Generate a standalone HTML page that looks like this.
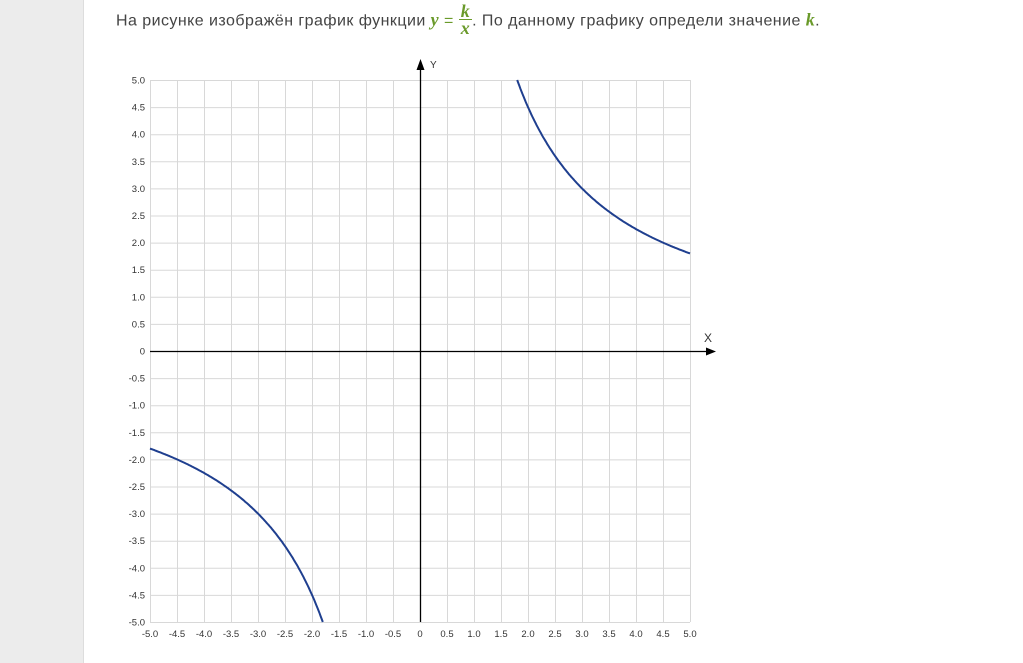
<!DOCTYPE html>
<html><head><meta charset="utf-8"><style>
body{margin:0;width:1023px;height:663px;background:#fff;position:relative;overflow:hidden;font-family:"Liberation Sans","DejaVu Sans",sans-serif}
.strip{position:absolute;left:0;top:0;width:83px;height:663px;background:#ececec;border-right:1px solid #ddd}
.q{position:absolute;left:116px;top:5px;font-size:16px;letter-spacing:0.45px;color:#444;white-space:nowrap}
.m{color:#6a9a2a;font-family:"Liberation Serif",serif;font-style:italic;font-weight:bold;font-size:18px}
</style></head><body>
<div class="strip"></div>
<div class="q">На рисунке изображён график функции <span class="m">y</span> <span style="color:#6a9a2a">=</span> <span style="display:inline-block;vertical-align:middle;text-align:center;line-height:16px;position:relative;top:-2px"><span class="m" style="display:block;border-bottom:1px solid #6a9a2a;padding:0 2px">k</span><span class="m" style="display:block">x</span></span>. По данному графику определи значение <span class="m">k</span>.</div>
<svg width="1023" height="663" style="position:absolute;left:0;top:0" font-family="Liberation Sans, DejaVu Sans, sans-serif">
<g stroke="#d8d8d8" stroke-width="1" id="grid"></g>
<g id="lbl" font-size="9.5" fill="#333"></g>
<line x1="150" y1="351.5" x2="708" y2="351.5" stroke="#000" stroke-width="1.3"/>
<polygon points="716,351.5 706,347.5 706,355.5" fill="#000"/>
<line x1="420.5" y1="622" x2="420.5" y2="68" stroke="#000" stroke-width="1.3"/>
<polygon points="420.5,59 416.5,70 424.5,70" fill="#000"/>
<text x="430" y="68" font-size="10" fill="#333">Y</text>
<text x="704" y="342" font-size="12" fill="#333">X</text>
<path id="c1" fill="none" stroke="#1f3f8f" stroke-width="2"/>
<path id="c2" fill="none" stroke="#1f3f8f" stroke-width="2"/>
</svg>
<script>
var g=document.getElementById('grid'),l=document.getElementById('lbl'),ns='http://www.w3.org/2000/svg';
function el(p,t,a){var e=document.createElementNS(ns,t);for(var k in a)e.setAttribute(k,a[k]);p.appendChild(e);return e;}
for(var i=0;i<=20;i++){var x=150+27*i+.5;el(g,'line',{x1:x,y1:80,x2:x,y2:622});
var y=80+27.1*i+.5;el(g,'line',{x1:150,y1:y,x2:690,y2:y});
var v=(5-0.5*i);var s=v===0?'0':v.toFixed(1);
el(l,'text',{x:145,y:y+3,'text-anchor':'end'}).textContent=s;
var vx=(-5+0.5*i);var sx=vx===0?'0':vx.toFixed(1);
el(l,'text',{x:150+27*i,y:637,'text-anchor':'middle'}).textContent=sx;}
var d1='',d2='';
for(var x=1.8;x<=5.0001;x+=0.02){var px=420+54*x,py=351-54.2*9/x;d1+=(d1?'L':'M')+px.toFixed(1)+','+py.toFixed(1);
var qx=420-54*x,qy=351+54.2*9/x;d2+=(d2?'L':'M')+qx.toFixed(1)+','+qy.toFixed(1);}
document.getElementById('c1').setAttribute('d',d1);document.getElementById('c2').setAttribute('d',d2);
</script>
</body></html>
